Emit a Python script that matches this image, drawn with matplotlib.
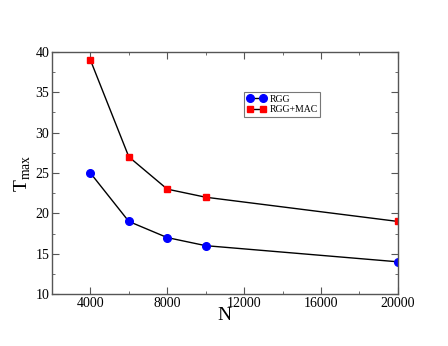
import numpy as np
import matplotlib
matplotlib.use("Agg")
import matplotlib.pyplot as plt
from matplotlib.ticker import MultipleLocator

plt.rcParams['font.family'] = ['Liberation Serif', 'DejaVu Serif']
plt.rcParams['mathtext.fontset'] = 'custom'
plt.rcParams['mathtext.rm'] = 'Liberation Serif'

# datos
N = [4000, 6000, 8000, 10000, 20000]
rgg = [25, 19, 17, 16, 14]
rgg_mac = [39, 27, 23, 22, 19]

fig = plt.figure(figsize=(4.48, 3.46), dpi=100)
ax = fig.add_axes([0.116, 0.150, 0.772, 0.700])

ax.plot(N, rgg, color='black', lw=1.0, marker='o', ms=5.5,
        mfc='blue', mec='blue', label='RGG')
ax.plot(N, rgg_mac, color='black', lw=1.0, marker='s', ms=4.8,
        mfc='red', mec='red', label='RGG+MAC')

ax.set_xlim(2000, 20000)
ax.set_ylim(10, 40)
ax.xaxis.set_major_locator(MultipleLocator(4000))
ax.xaxis.set_minor_locator(MultipleLocator(2000))
ax.yaxis.set_major_locator(MultipleLocator(5))
ax.yaxis.set_minor_locator(MultipleLocator(2.5))
ax.set_xticks([4000, 8000, 12000, 16000, 20000])

for s in ax.spines.values():
    s.set_color('#555555')
    s.set_linewidth(1.0)
ax.tick_params(which='both', direction='in', top=True, right=True,
               color='#555555', labelsize=10, pad=2)
ax.tick_params(which='major', length=5)
ax.tick_params(which='minor', length=2.5)

ax.set_xlabel('N', fontsize=14, labelpad=-2)
ax.set_ylabel(r'T$_{\mathrm{max}}$', fontsize=14, labelpad=2)

leg = ax.legend(loc='upper left', bbox_to_anchor=(0.555, 0.835), numpoints=2,
                fontsize=7, frameon=True, fancybox=False, handlelength=2.0,
                borderpad=0.3, labelspacing=0.15, handletextpad=0.3,
                borderaxespad=0)
leg.get_frame().set_edgecolor('#555555')
leg.get_frame().set_linewidth(0.8)

fig.savefig('out.png', dpi=100)
